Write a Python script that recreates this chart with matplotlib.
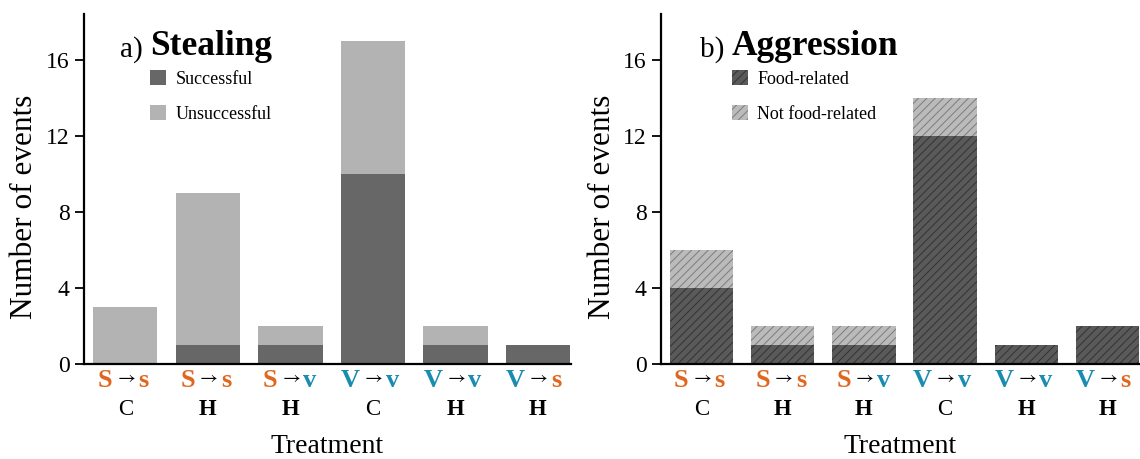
import matplotlib
matplotlib.use("Agg")
import matplotlib.pyplot as plt
from matplotlib.patches import Patch
from matplotlib.transforms import blended_transform_factory, offset_copy

plt.rcParams['font.family'] = ['Liberation Serif', 'DejaVu Sans']
plt.rcParams['hatch.linewidth'] = 0.7

# data
donor = ["S", "S", "S", "V", "V", "V"]
receiver = ["s", "s", "v", "v", "v", "s"]
group = ["C", "H", "H", "C", "H", "H"]

steal_success = [0, 1, 1, 10, 1, 1]
steal_unsuccess = [3, 8, 1, 7, 1, 0]

aggr_food = [4, 1, 1, 12, 1, 2]
aggr_notfood = [2, 1, 1, 2, 0, 0]

orange = "#E0681E"
blue = "#1A8CB0"
col_of = {"S": orange, "s": orange, "V": blue, "v": blue}

fig = plt.figure(figsize=(11.4, 4.59), dpi=100)
ax1 = fig.add_axes([84/1140, 1-364/459, 487/1140, 350/459])
ax2 = fig.add_axes([661/1140, 1-364/459, 479/1140, 350/459])

x = list(range(len(group)))
w = 0.78
htch = "////"

ax1.bar(x, steal_success, w, color="#676767", linewidth=0)
ax1.bar(x, steal_unsuccess, w, bottom=steal_success, color="#B3B3B3", linewidth=0)

ax2.bar(x, aggr_food, w, color="#5A5A5A", edgecolor="#333333", hatch=htch, linewidth=0)
ax2.bar(x, aggr_notfood, w, bottom=aggr_food, color="#BBBBBB", edgecolor="#7C7C7C",
        hatch=htch, linewidth=0)


def style(ax, title, legend_handles, legx, titx):
    ax.set_ylim(0, 18.42)
    ax.set_xlim(-0.5, 5.4)
    ax.set_yticks([0, 4, 8, 12, 16])
    ax.set_xticks([])
    for s in ["top", "right"]:
        ax.spines[s].set_visible(False)
    ax.spines["left"].set_linewidth(1.6)
    ax.spines["bottom"].set_linewidth(1.6)
    ax.tick_params(axis="y", length=6.5, width=1.3, pad=4, labelsize=17)
    ax.set_ylabel("Number of events", fontsize=22.5, va="center")
    ax.yaxis.set_label_coords(-0.123, 0.45)

    # title: small label + bold word
    t = ax.text(titx, 0.877, title[0] + " ", transform=ax.transAxes,
                fontsize=21, va="baseline", ha="left")
    ax.annotate(title[1], xy=(1, 0), xycoords=t, va="bottom", ha="left",
                fontsize=25.5, fontweight="bold")

    ax.legend(handles=legend_handles, loc="upper left", bbox_to_anchor=(legx, 0.84),
              frameon=False, fontsize=13, handlelength=0.9, handleheight=0.9,
              handletextpad=0.5, labelspacing=0.95, borderpad=0, borderaxespad=0)

    # two-row category labels under the bars
    trans = blended_transform_factory(ax.transData, ax.transAxes)
    tl = offset_copy(trans, fig=fig, x=-13, y=0, units="dots")
    tr = offset_copy(trans, fig=fig, x=13, y=0, units="dots")
    for i in x:
        ax.text(i, -0.046, donor[i], transform=tl, ha="right", va="center",
                fontsize=19, fontweight="bold", color=col_of[donor[i]])
        ax.text(i, -0.042, r"$\rightarrow$", transform=trans, ha="center",
                va="center", fontsize=14, math_fontfamily="stix", color="black")
        ax.text(i, -0.046, receiver[i], transform=tr, ha="left", va="center",
                fontsize=19, fontweight="bold", color=col_of[receiver[i]])
        ax.text(i, -0.131, group[i], transform=trans, ha="center", va="center",
                fontsize=16.5, fontweight="bold" if group[i] == "H" else "normal")
    ax.text(0.5, -0.237, "Treatment", transform=ax.transAxes, ha="center",
            va="center", fontsize=20)


style(ax1, ("a)", "Stealing"),
      [Patch(facecolor="#676767", linewidth=0, label="Successful"),
       Patch(facecolor="#B3B3B3", linewidth=0, label="Unsuccessful")], 0.1355, 0.074)
style(ax2, ("b)", "Aggression"),
      [Patch(facecolor="#5A5A5A", edgecolor="#333333", hatch=htch, linewidth=0,
             label="Food-related"),
       Patch(facecolor="#BBBBBB", edgecolor="#7C7C7C", hatch=htch, linewidth=0,
             label="Not food-related")], 0.148, 0.081)

fig.savefig("out.png", dpi=100)
